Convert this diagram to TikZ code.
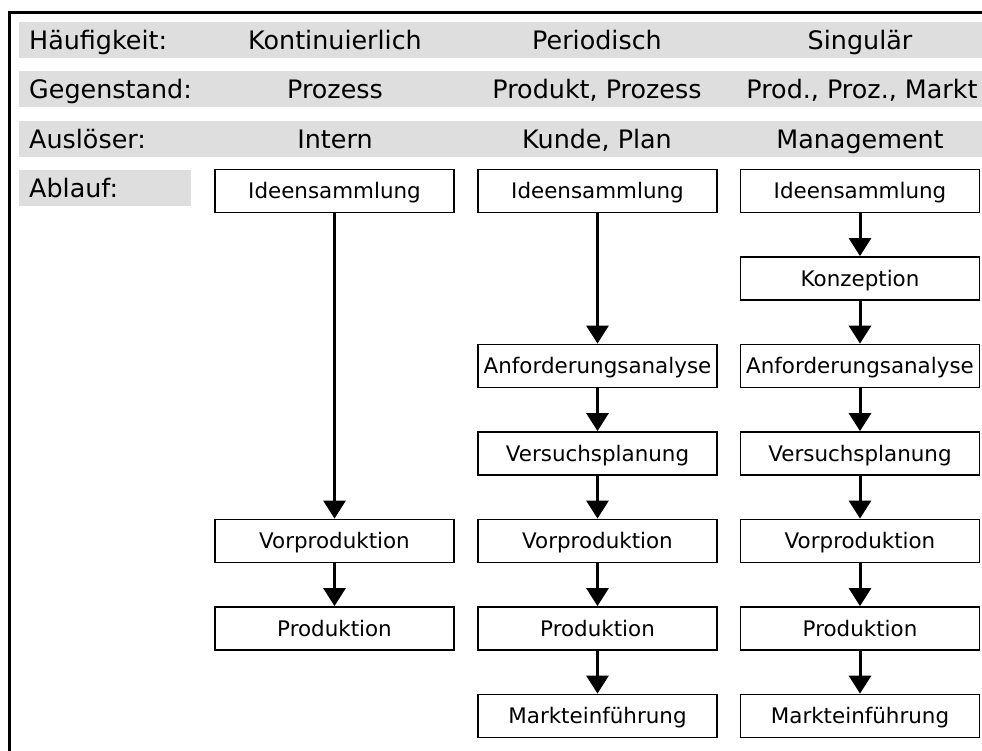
\documentclass[tikz,border=0pt]{standalone}
\usepackage{fontspec}
\setmainfont{DejaVu Sans}
\usetikzlibrary{arrows.meta}
\definecolor{bandgray}{RGB}{222,222,222}
\begin{document}
\begin{tikzpicture}[x=1bp,y=-1bp,
  stepbox/.style={font=\fontsize{21.5}{25}\selectfont, inner sep=0pt, text height=15.5bp, text depth=0pt,
    draw, line width=1.8bp, minimum width=239bp, minimum height=43bp, fill=white},
  hdr/.style={font=\fontsize{25.5}{30}\selectfont, inner sep=0pt, text height=18.5bp, text depth=0pt},
  lbl/.style={hdr, anchor=west},
  flow/.style={line width=3bp, -{Triangle[length=18bp,width=22bp]}},
  band/.style={fill=bandgray, draw=none}]
\useasboundingbox (0,0) rectangle (982,751);

% outer frame (left and top edges)
\draw[line width=3bp] (9,751) -- (9,13) -- (982,13);

% grey bands behind the header rows
\fill[band] (19,22) rectangle (982,58);
\fill[band] (19,71) rectangle (982,107);
\fill[band] (19,121) rectangle (982,157);
\fill[band] (19,170) rectangle (191,206);

% row labels
\node[lbl] (lfreq) at (29,40) {Häufigkeit:};
\node[lbl] (lsubj) at (29,89) {Gegenstand:};
\node[lbl] (ltrig) at (29,139) {Auslöser:};
\node[lbl] (lflow) at (29,188) {Ablauf:};

% header entries per column
\node[hdr] (f1) at (335,40) {Kontinuierlich};
\node[hdr] (f2) at (597,40) {Periodisch};
\node[hdr] (f3) at (860,40) {Singulär};
\node[hdr] (s1) at (335,89) {Prozess};
\node[hdr] (s2) at (597,89) {Produkt, Prozess};
\node[hdr] (s3) at (862,89) {Prod., Proz., Markt};
\node[hdr] (t1) at (335,139) {Intern};
\node[hdr] (t2) at (597,139) {Kunde, Plan};
\node[hdr] (t3) at (860,139) {Management};

% column 1: continuous
\node[stepbox] (a1) at (334.5,191) {Ideensammlung};
\node[stepbox] (a5) at (334.5,541) {Vorproduktion};
\node[stepbox] (a6) at (334.5,628.5) {Produktion};

% column 2: periodic
\node[stepbox] (b1) at (597.5,191) {Ideensammlung};
\node[stepbox] (b3) at (597.5,366) {Anforderungsanalyse};
\node[stepbox] (b4) at (597.5,453.5) {Versuchsplanung};
\node[stepbox] (b5) at (597.5,541) {Vorproduktion};
\node[stepbox] (b6) at (597.5,628.5) {Produktion};
\node[stepbox] (b7) at (597.5,716) {Markteinführung};

% column 3: singular
\node[stepbox] (c1) at (860,191) {Ideensammlung};
\node[stepbox] (c2) at (860,278.5) {Konzeption};
\node[stepbox] (c3) at (860,366) {Anforderungsanalyse};
\node[stepbox] (c4) at (860,453.5) {Versuchsplanung};
\node[stepbox] (c5) at (860,541) {Vorproduktion};
\node[stepbox] (c6) at (860,628.5) {Produktion};
\node[stepbox] (c7) at (860,716) {Markteinführung};

% connectors
\draw[flow] (a1) -- (a5);
\draw[flow] (a5) -- (a6);
\draw[flow] (b1) -- (b3);
\draw[flow] (b3) -- (b4);
\draw[flow] (b4) -- (b5);
\draw[flow] (b5) -- (b6);
\draw[flow] (b6) -- (b7);
\draw[flow] (c1) -- (c2);
\draw[flow] (c2) -- (c3);
\draw[flow] (c3) -- (c4);
\draw[flow] (c4) -- (c5);
\draw[flow] (c5) -- (c6);
\draw[flow] (c6) -- (c7);
\end{tikzpicture}
\end{document}
